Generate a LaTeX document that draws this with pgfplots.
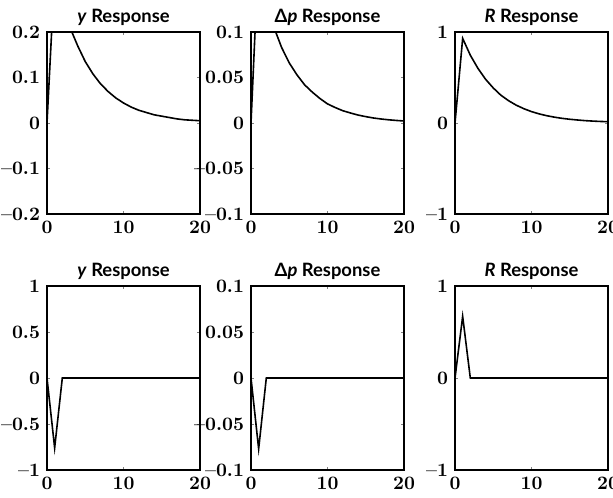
\documentclass[border=0pt]{standalone}
\usepackage{fontspec}
\setsansfont{Lato}
\usepackage{pgfplots}
\usepackage{pgfplotstable}
\pgfplotsset{compat=1.18}

% impulse responses, first shock
\pgfplotstableread{
t y dp R
0 0 0 0
1 0.33 0.19 0.93
2 0.265 0.14 0.745
3 0.21 0.105 0.60
4 0.17 0.083 0.48
5 0.135 0.066 0.385
6 0.108 0.053 0.305
7 0.086 0.042 0.245
8 0.069 0.034 0.196
9 0.055 0.027 0.157
10 0.044 0.021 0.125
11 0.035 0.017 0.10
12 0.028 0.0135 0.08
13 0.023 0.011 0.064
14 0.018 0.0087 0.051
15 0.015 0.007 0.041
16 0.012 0.0055 0.033
17 0.009 0.0044 0.026
18 0.007 0.0035 0.021
19 0.006 0.0028 0.017
20 0.005 0.0022 0.014
}\shockA

% impulse responses, second shock
\pgfplotstableread{
t y dp R
0 0 0 0
1 -0.76 -0.077 0.67
2 0 0 0
3 0 0 0
5 0 0 0
10 0 0 0
15 0 0 0
20 0 0 0
}\shockB

\pgfplotsset{
  irf/.style={
    anchor=south west,
    scale only axis, width=76.5pt, height=91pt,
    xmin=0, xmax=20, xtick={0,10,20}, xticklabels={0,10,20},
    tick align=inside, major tick length=1.5pt,
    axis line style={line width=1pt},
    every tick label/.append style={font=\rmfamily\bfseries\fontsize{9.5}{10}\selectfont},
    title style={font=\sffamily\bfseries\fontsize{9.2}{10}\selectfont, yshift=-6.5pt},
    cycle list={{black, no marks}},
    every axis plot/.append style={line width=0.8pt},
  }
}

\begin{document}
\begin{tikzpicture}
\path[use as bounding box] (-23.5pt,-141.5pt) rectangle (283pt,107pt);

% top row
\begin{axis}[irf, at={(0pt,0pt)}, title={\textit{y} Response},
  ymin=-0.2, ymax=0.2, ytick={-0.2,-0.1,0,0.1,0.2},
  yticklabels={\textendash0.2,\textendash0.1,0,0.1,0.2}]
  \addplot table[x=t,y=y] {\shockA};
\end{axis}
\begin{axis}[irf, at={(102pt,0pt)}, title={Δ\textit{p} Response},
  ymin=-0.1, ymax=0.1, ytick={-0.1,-0.05,0,0.05,0.1},
  yticklabels={\textendash0.1,\textendash0.05,0,0.05,0.1}]
  \addplot table[x=t,y=dp] {\shockA};
\end{axis}
\begin{axis}[irf, at={(204pt,0pt)}, title={\textit{R} Response},
  ymin=-1, ymax=1, ytick={-1,0,1},
  yticklabels={\textendash1,0,1}]
  \addplot table[x=t,y=R] {\shockA};
\end{axis}

% bottom row
\begin{axis}[irf, at={(0pt,-128pt)}, height=92pt, title={\textit{y} Response},
  ymin=-1, ymax=1, ytick={-1,-0.5,0,0.5,1},
  yticklabels={\textendash1,\textendash0.5,0,0.5,1}]
  \addplot table[x=t,y=y] {\shockB};
\end{axis}
\begin{axis}[irf, at={(102pt,-128pt)}, height=92pt, title={Δ\textit{p} Response},
  ymin=-0.1, ymax=0.1, ytick={-0.1,-0.05,0,0.05,0.1},
  yticklabels={\textendash0.1,\textendash0.05,0,0.05,0.1}]
  \addplot table[x=t,y=dp] {\shockB};
\end{axis}
\begin{axis}[irf, at={(204pt,-128pt)}, height=92pt, title={\textit{R} Response},
  ymin=-1, ymax=1, ytick={-1,0,1},
  yticklabels={\textendash1,0,1}]
  \addplot table[x=t,y=R] {\shockB};
\end{axis}
\end{tikzpicture}
\end{document}
